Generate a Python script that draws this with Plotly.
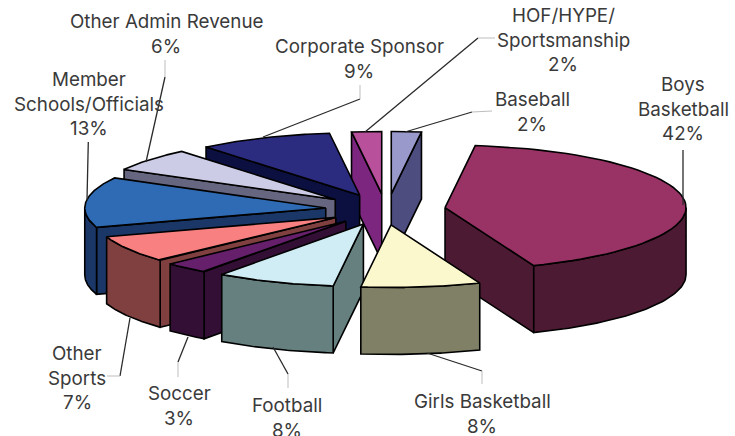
import numpy as np
import plotly.graph_objects as go

# ---- data (clockwise from 12 o'clock) ----
categories = ["Baseball", "Boys Basketball", "Girls Basketball", "Football", "Soccer",
              "Other Sports", "Member Schools/Officials", "Other Admin Revenue",
              "Corporate Sponsor", "HOF/HYPE/ Sportsmanship"]
values = [2, 42, 8, 8, 3, 7, 13, 6, 9, 2]
label_lines = [["Baseball"], ["Boys", "Basketball"], ["Girls Basketball"], ["Football"], ["Soccer"],
               ["Other", "Sports"], ["Member", "Schools/Officials"], ["Other Admin Revenue"],
               ["Corporate Sponsor"], ["HOF/HYPE/", "Sportsmanship"]]
top_colors = ["#9999CC", "#993366", "#FCF8CD", "#D0ECF4", "#661F6B",
              "#F98080", "#2E6BB4", "#CCCCE6", "#2B2B7F", "#B8509C"]
side_colors = ["#4D4D80", "#4D1A33", "#808066", "#668080", "#330F36",
               "#804040", "#1A3768", "#666680", "#0C1040", "#7D267F"]

# ---- drawing geometry of the tilted, exploded pie (pixels) ----
W, H = 735, 436
CX, CY = 385.5, 209.5
A, B = 241.0, 62.5
DEPTH = 67.0
EXPLODE = 0.249
tip_nudge_x = [2, 0, -2, 0, 0, 2, 0, -4, -2, 0]
draw_order = [9, 0, 8, 7, 6, 5, 4, 1, 3, 2]
LINE_GAP = 24.7
# label centres and leader lines, pixels
label_xy = {0: (532, 112), 1: (683, 109), 2: (482, 414), 3: (287, 418), 4: (179, 406),
            5: (77, 378), 6: (89, 104), 7: (166, 34), 8: (359, 59), 9: (563, 40)}
leaders = {0: [(405, 132), (472, 112)], 1: [(683, 205), (683, 150)], 2: [(427, 353), (482, 371)],
           3: [(273, 347), (288, 374)], 4: [(188, 337), (178, 362)], 5: [(130, 318), (120, 376)],
           6: [(87, 200), (88.3, 142)], 7: [(146, 162), (165, 77)], 8: [(263, 137), (360, 99)],
           9: [(365, 132), (478, 38)]}
leader_tails = {0: (492, 111), 2: (482, 384), 3: (288, 388), 4: (178, 377), 5: (107, 376),
                7: (165, 60), 8: (360, 85), 9: (495, 38)}

frac = np.cumsum([0] + values) / sum(values) * 2 * np.pi


def rim(th, tip):
    return tip[0] + A * np.sin(th), tip[1] - B * np.cos(th)


fig = go.Figure()


def poly(xs, ys, color, name):
    fig.add_trace(go.Scatter(x=list(xs), y=list(ys), mode="lines", fill="toself",
                             fillcolor=color, line=dict(color="#000000", width=1.6),
                             hoverinfo="skip", name=name, showlegend=False))


for i in draw_order:
    t0, t1 = frac[i], frac[i + 1]
    mid = (t0 + t1) / 2
    tip = (CX + EXPLODE * A * np.sin(mid) + tip_nudge_x[i], CY - EXPLODE * B * np.cos(mid))
    th = np.linspace(t0, t1, 60)
    rx, ry = rim(th, tip)
    name = categories[i]
    # radial walls that face the viewer
    if np.sin(t0) < -1e-9:
        sx, sy = rim(t0, tip)
        poly([tip[0], sx, sx, tip[0], tip[0]], [tip[1], sy, sy + DEPTH, tip[1] + DEPTH, tip[1]],
             side_colors[i], name)
    if np.sin(t1) > 1e-9:
        ex, ey = rim(t1, tip)
        poly([tip[0], ex, ex, tip[0], tip[0]], [tip[1], ey, ey + DEPTH, tip[1] + DEPTH, tip[1]],
             side_colors[i], name)
    # outer rim, front half only
    lo, hi = max(t0, np.pi / 2), min(t1, 3 * np.pi / 2)
    if hi > lo:
        fth = np.linspace(lo, hi, 60)
        fx, fy = rim(fth, tip)
        poly(np.r_[fx, fx[::-1], fx[0]], np.r_[fy, fy[::-1] + DEPTH, fy[0]], side_colors[i], name)
    # top face
    poly(np.r_[tip[0], rx, tip[0]], np.r_[tip[1], ry, tip[1]], top_colors[i], name)

shapes = []
for i, pts in leaders.items():
    shapes.append(dict(type="line", x0=pts[0][0], y0=pts[0][1], x1=pts[1][0], y1=pts[1][1],
                       xref="x", yref="y", line=dict(color="#2A2A2A", width=1.3)))
    if i in leader_tails:
        shapes.append(dict(type="line", x0=pts[1][0], y0=pts[1][1], x1=leader_tails[i][0],
                           y1=leader_tails[i][1], xref="x", yref="y",
                           line=dict(color="#BDBDBD", width=1)))

annotations = []
for i, lines in enumerate(label_lines):
    block = lines + [f"{values[i]}%"]
    for k, line in enumerate(block):
        y = label_xy[i][1] + (k - (len(block) - 1) / 2) * LINE_GAP
        annotations.append(dict(x=label_xy[i][0], y=y, xref="x", yref="y", text=line,
                                showarrow=False, align="center", xanchor="center",
                                yanchor="middle",
                                font=dict(family="Inter", size=18.8, color="#3A3A3A")))

fig.update_layout(
    width=W, height=H, margin=dict(l=0, r=0, t=0, b=0),
    paper_bgcolor="#FFFFFF", plot_bgcolor="#FFFFFF", showlegend=False,
    xaxis=dict(range=[0, W], visible=False, domain=[0, 1], fixedrange=True),
    yaxis=dict(range=[H, 0], visible=False, domain=[0, 1], fixedrange=True),
    shapes=shapes, annotations=annotations,
)
fig.write_html("out.html", config={"displayModeBar": False},
               post_script="document.body.style.margin='0';document.body.style.overflow='hidden';")
